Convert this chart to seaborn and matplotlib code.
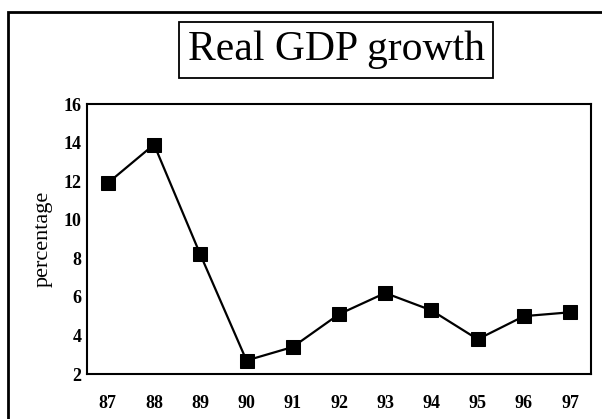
import matplotlib
matplotlib.use("Agg")
import matplotlib.pyplot as plt
import seaborn as sns
import pandas as pd
from matplotlib.patches import Rectangle

# values
years = [87, 88, 89, 90, 91, 92, 93, 94, 95, 96, 97]
growth = [11.9, 13.9, 8.2, 2.7, 3.4, 5.1, 6.2, 5.3, 3.8, 5.0, 5.2]
y_ticks = [2, 4, 6, 8, 10, 12, 14, 16]

df = pd.DataFrame({"year": years, "growth": growth})

sns.set_theme(style="white")
plt.rcParams['font.family'] = ['Liberation Serif', 'DejaVu Serif']

fig = plt.figure(figsize=(6.02, 4.19), dpi=100)
ax = fig.add_axes([87 / 602, 1 - 374 / 419, (591 - 87) / 602, (374 - 104) / 419])

sns.lineplot(data=df, x="year", y="growth", ax=ax, color="black", linewidth=1.6,
             marker="s", markersize=10, markeredgecolor="black", markerfacecolor="black")

ax.set_xlim(86.55, 97.45)
ax.set_ylim(2, 16)
ax.set_xticks(years)
ax.set_xticklabels([str(y) for y in years], fontweight="bold", fontsize=13)
ax.set_yticks(y_ticks)
ax.set_yticklabels([str(t) for t in y_ticks], fontweight="bold", fontsize=13)
ax.tick_params(axis="both", direction="in", length=6, width=1.3, colors="black")
ax.tick_params(axis="x", pad=15)
ax.tick_params(axis="y", pad=4)
ax.set_xlabel("")
ax.set_ylabel("percentage", fontsize=16, color="black", labelpad=8)
for s in ax.spines.values():
    s.set_color("black")
    s.set_linewidth(1.5)

# title in a box
fig.text(336 / 602, 1 - 50 / 419, "Real GDP growth", ha="center", va="center", fontsize=30,
         color="black",
         bbox=dict(boxstyle="square,pad=0.2", facecolor="white", edgecolor="black", linewidth=1.3))

# outer frame
fig.patches.append(Rectangle((8 / 602, -0.05), 1.0, 1 - 12 / 419 + 0.05, transform=fig.transFigure,
                             fill=False, edgecolor="black", linewidth=2))

fig.savefig("out.png", dpi=100)
